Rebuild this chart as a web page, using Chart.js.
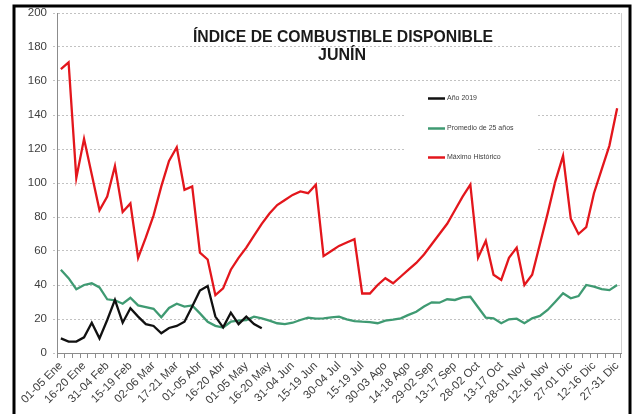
<!DOCTYPE html>
<html>
<head>
<meta charset="utf-8">
<script src="https://cdn.jsdelivr.net/npm/chart.js@4/dist/chart.umd.min.js"></script>
<style>
    html, body { margin: 0; padding: 0; background: #fff; }
    #chart { display: block; }
</style>
</head>
<body>
<canvas id="chart" width="641" height="414"></canvas>
<script>
// Pentadas del año (73), se rotula una de cada tres
const pentadas = [
    '01-05 Ene', '06-10 Ene', '11-15 Ene', '16-20 Ene', '21-25 Ene', '26-30 Ene',
    '31-04 Feb', '05-09 Feb', '10-14 Feb', '15-19 Feb', '20-24 Feb', '25-01 Mar',
    '02-06 Mar', '07-11 Mar', '12-16 Mar', '17-21 Mar', '22-26 Mar', '27-31 Mar',
    '01-05 Abr', '06-10 Abr', '11-15 Abr', '16-20 Abr', '21-25 Abr', '26-30 Abr',
    '01-05 May', '06-10 May', '11-15 May', '16-20 May', '21-25 May', '26-30 May',
    '31-04 Jun', '05-09 Jun', '10-14 Jun', '15-19 Jun', '20-24 Jun', '25-29 Jun',
    '30-04 Jul', '05-09 Jul', '10-14 Jul', '15-19 Jul', '20-24 Jul', '25-29 Jul',
    '30-03 Ago', '04-08 Ago', '09-13 Ago', '14-18 Ago', '19-23 Ago', '24-28 Ago',
    '29-02 Sep', '03-07 Sep', '08-12 Sep', '13-17 Sep', '18-22 Sep', '23-27 Sep',
    '28-02 Oct', '03-07 Oct', '08-12 Oct', '13-17 Oct', '18-22 Oct', '23-27 Oct',
    '28-01 Nov', '02-06 Nov', '07-11 Nov', '12-16 Nov', '17-21 Nov', '22-26 Nov',
    '27-01 Dic', '02-06 Dic', '07-11 Dic', '12-16 Dic', '17-21 Dic', '22-26 Dic',
    '27-31 Dic'
];

const anio2019 = [
    8.6, 6.7, 6.7, 9.2, 17.8, 8.6, 19.4, 31.2, 17.8, 26.3, 21.4, 17, 15.9, 11.6,
    14.7, 15.9, 18.4, 27.3, 36.7, 39.4, 21.4, 15.1, 23.7, 17, 21.4, 17, 14.5
];

const promedio25 = [
    49, 44, 37.5, 40, 41, 38.6, 31.6, 31, 29, 32.5, 28, 27, 26, 21, 26.5, 29, 27.3, 28,
    23.3, 18.4, 16, 15, 18.4, 19, 19.4, 21.4, 20.4, 19, 17.5, 17, 17.8, 19.4, 20.8, 20.2,
    20.4, 21, 21.4, 19.8, 18.8, 18.4, 18.2, 17.5, 19, 19.6, 20.4, 22.4, 24.3, 27.3, 29.8,
    29.6, 31.6, 31.2, 32.7, 33.1, 26.9, 20.8, 20.4, 17.5, 19.8, 20.2, 17.5, 20.4, 21.8,
    25.3, 30.2, 35.1, 32.2, 33.5, 40, 39, 37.6, 37, 40
];

const maximoHistorico = [
    167, 171, 103, 126, 105, 84, 92, 110, 83, 88, 56, 68, 81, 98, 113, 121, 96, 98,
    59, 55, 34, 38, 49, 56, 62, 69, 76, 82, 87, 90, 93, 95, 94, 99, 57, 60, 63, 65,
    67, 35, 35, 40, 44, 41, 45, 49, 53, 58, 64, 70, 76, 84, 92, 99, 56, 66, 46, 43,
    56, 62, 40, 46, 64, 82, 101, 116, 79, 70, 74, 94, 108, 122, 144
];

const yTicks = { min: 0, max: 200, step: 20 };

const FONT = "'Liberation Sans', Arial, sans-serif";
const TEXT = '#404040';

const seriesStyle = [
    { label: 'Año 2019', data: anio2019, color: '#111111' },
    { label: 'Promedio de 25 años', data: promedio25, color: '#3f9a72' },
    { label: 'Máximo Histórico', data: maximoHistorico, color: '#e3161c' }
];

// marco negro, título y leyenda dentro del área de trazado
const decorations = {
    id: 'decorations',
    beforeDraw(chart) {
        const ctx = chart.ctx;
        ctx.save();
        ctx.fillStyle = '#fff';
        ctx.fillRect(0, 0, chart.width, chart.height);
        ctx.strokeStyle = '#000';
        ctx.lineWidth = 3;
        ctx.strokeRect(14, 6, 616, 430);
        ctx.restore();
    },
    afterDatasetsDraw(chart) {
        const ctx = chart.ctx;
        const area = chart.chartArea;
        ctx.save();

        // borde derecho del área
        ctx.strokeStyle = '#d0d0d0';
        ctx.lineWidth = 1;
        ctx.beginPath();
        ctx.moveTo(area.right + 0.5, area.top);
        ctx.lineTo(area.right + 0.5, area.bottom);
        ctx.stroke();

        // título
        ctx.fillStyle = '#1a1a1a';
        ctx.font = 'bold 16px ' + FONT;
        ctx.textAlign = 'center';
        ctx.textBaseline = 'alphabetic';
        ctx.fillText('ÍNDICE DE COMBUSTIBLE DISPONIBLE', 343, 42, 300);
        ctx.fillText('JUNÍN', 342, 60);

        // leyenda
        ctx.fillStyle = '#fff';
        ctx.fillRect(404, 86, 133, 80);
        ctx.font = '7px ' + FONT;
        ctx.textAlign = 'left';
        ctx.textBaseline = 'middle';
        const rows = [98.5, 128.5, 157.5];
        seriesStyle.forEach((s, i) => {
            ctx.strokeStyle = s.color;
            ctx.lineWidth = 2.5;
            ctx.beginPath();
            ctx.moveTo(428, rows[i]);
            ctx.lineTo(445, rows[i]);
            ctx.stroke();
            ctx.fillStyle = TEXT;
            ctx.fillText(s.label, 447, rows[i]);
        });
        ctx.restore();
    }
};

new Chart(document.getElementById('chart'), {
    type: 'line',
    data: {
        labels: pentadas,
        datasets: seriesStyle.map(s => ({
            label: s.label,
            data: s.data,
            borderColor: s.color,
            backgroundColor: s.color,
            borderWidth: 2.3,
            pointRadius: 0,
            tension: 0,
            fill: false
        }))
    },
    options: {
        responsive: false,
        animation: false,
        layout: { padding: { left: 0, right: 20, top: 13, bottom: 0 } },
        plugins: {
            legend: { display: false },
            title: { display: false },
            tooltip: { enabled: false }
        },
        scales: {
            x: {
                offset: true,
                grid: {
                    offset: true,
                    drawOnChartArea: false,
                    drawTicks: true,
                    tickLength: 5,
                    color: '#8c8c8c'
                },
                border: { color: '#8c8c8c', width: 1 },
                ticks: {
                    autoSkip: false,
                    minRotation: 45,
                    maxRotation: 45,
                    padding: 1,
                    color: TEXT,
                    font: { family: FONT, size: 11.5 },
                    callback: (v, i) => (i % 3 === 0 ? pentadas[i] : '')
                },
                afterFit: s => { s.height = 61; }
            },
            y: {
                min: yTicks.min,
                max: yTicks.max,
                grid: {
                    color: '#c2c2c2',
                    tickLength: 4,
                    tickBorderDash: [2, 2]
                },
                border: { color: '#8c8c8c', width: 1, dash: [2, 2] },
                ticks: {
                    stepSize: yTicks.step,
                    padding: 6,
                    color: TEXT,
                    font: { family: FONT, size: 11.5 }
                },
                afterFit: s => { s.width = 57; }
            }
        }
    },
    plugins: [decorations]
});
</script>
</body>
</html>
